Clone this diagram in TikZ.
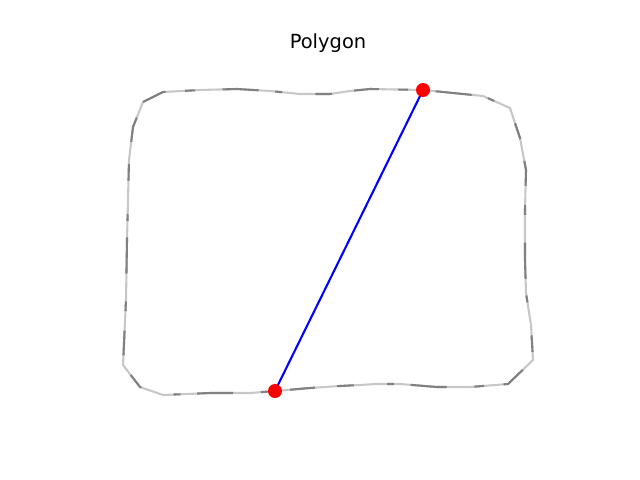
\documentclass[tikz,border=0pt]{standalone}
\usepackage{fontspec}
\setmainfont{DejaVu Sans}
\usepackage{tikz}

\begin{document}
\begin{tikzpicture}[x=0.72pt,y=-0.72pt]
  \useasboundingbox (0,0) rectangle (640,480);
  \node at (328,43) {\fontsize{14}{17}\selectfont Polygon};
  % outline of the polygon
  \def\outline{(143,102) -- (163,92) -- (200,90) -- (237,89) -- (270,91) -- (300,94) -- (330,94) -- (350,91) -- (370,89) -- (423,90) -- (483,96) -- (510,108) -- (520,138) -- (526,170) -- (525,210) -- (525,260) -- (526,293) -- (531,325) -- (533,360) -- (508,384) -- (470,387) -- (437,387) -- (400,384) -- (377,384) -- (340,386) -- (310,388) -- (275,391) -- (250,393) -- (210,393) -- (163,395) -- (140,387) -- (123,365) -- (126,300) -- (127,240) -- (129,160) -- (133,127) -- cycle}
  \draw[line width=1.5pt,black!22] \outline;
  \draw[line width=1.5pt,black!50,dash pattern=on 18pt off 14pt on 7pt off 20pt on 26pt off 12pt on 5pt off 24pt on 12pt off 16pt] \outline;
  % chord between the two picked vertices
  \coordinate (top) at (423,90);
  \coordinate (bottom) at (275,391);
  \draw[line width=1.5pt,blue] (bottom) -- (top);
  \fill[red] (top) circle (7);
  \fill[red] (bottom) circle (7);
\end{tikzpicture}
\end{document}
